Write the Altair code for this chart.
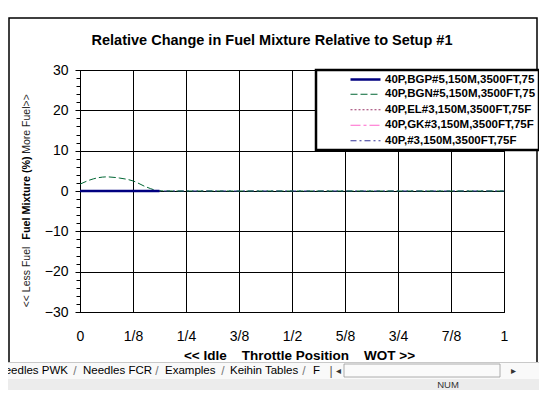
import altair as alt
import pandas as pd

# ---------------- data ----------------
series_names = [
    "40P,BGP#5,150M,3500FT,75F",
    "40P,BGN#5,150M,3500FT,75F",
    "40P,EL#3,150M,3500FT,75F",
    "40P,GK#3,150M,3500FT,75F",
    "40P,#3,150M,3500FT,75F",
]
series_colors = ["#000080", "#006633", "#993366", "#ff66cc", "#333399"]
series_dash = [[1, 0], [7, 3], [2, 2], [10, 3, 3, 3], [6, 3, 2, 3]]
series_width = [2.6, 1.0, 1.0, 1.0, 1.0]

throttle_short = [0.0, 0.03125, 0.0625, 0.09375, 0.125, 0.15625, 0.1875]
bgp5 = [0.0, 0.0, 0.0, 0.0, 0.0, 0.0, 0.0]
el3 = [0.0, 0.0, 0.0, 0.0, 0.0, 0.0, 0.0]
gk3 = [0.0, 0.0, 0.0, 0.0, 0.0, 0.0, 0.0]

throttle = [0.0, 0.03125, 0.0625, 0.09375, 0.125, 0.15625, 0.1875, 0.21875,
            0.25, 0.375, 0.5, 0.625, 0.75, 0.875, 1.0]
bgn5 = [1.7, 3.0, 3.5, 3.2, 2.5, 1.0, 0.05, 0.0, 0.0, 0.0, 0.0, 0.0, 0.0, 0.0, 0.0]
s3 = [0.0, 0.0, 0.0, 0.0, 0.0, 0.0, 0.0, 0.0, 0.0, 0.0, 0.0, 0.0, 0.0, 0.0, 0.0]

x_tick_values = [0, 0.125, 0.25, 0.375, 0.5, 0.625, 0.75, 0.875, 1]
x_tick_labels = ["0", "1/8", "1/4", "3/8", "1/2", "5/8", "3/4", "7/8", "1"]
y_major = [-30, -20, -10, 0, 10, 20, 30]
y_minor = [-30, -28, -26, -24, -22, -20, -18, -16, -14, -12, -10, -8, -6, -4, -2, 0,
           2, 4, 6, 8, 10, 12, 14, 16, 18, 20, 22, 24, 26, 28, 30]


def frame(name, xs, vals):
    return pd.DataFrame({"throttle": xs, "value": vals, "series": [name] * len(xs)})


FONT = "Liberation Sans"
W, H = 424, 242

label_expr = " : ".join(
    f"datum.value == {v} ? '{l}'" for v, l in zip(x_tick_values[:-1], x_tick_labels[:-1])
) + f" : '{x_tick_labels[-1]}'"

x_enc = alt.X(
    "throttle:Q",
    scale=alt.Scale(domain=[0, 1], nice=False, zero=False),
    axis=alt.Axis(
        values=x_tick_values, labelExpr=label_expr,
        grid=True, gridColor="black", gridOpacity=1, gridWidth=1,
        ticks=False, domain=True, domainColor="black",
        labelFont=FONT, labelFontSize=14, labelColor="black", labelPadding=17,
        labelFlush=False,
        title="<<\u00a0Idle\u00a0\u00a0\u00a0\u00a0Throttle\u00a0Position\u00a0\u00a0\u00a0\u00a0WOT\u00a0>>",
        titleFont=FONT, titleFontSize=13.5, titleFontWeight="bold", titleColor="black",
        titlePadding=5, titleX=219,
    ),
)

y_enc = alt.Y(
    "value:Q",
    scale=alt.Scale(domain=[-30, 30], nice=False),
    axis=alt.Axis(
        orient="left",
        values=y_major, grid=True, gridColor="black", gridOpacity=1, gridWidth=1,
        tickColor="black", tickSize=5, domainColor="black",
        labelFont=FONT, labelFontSize=14, labelColor="black", labelPadding=7,
        title=None,
    ),
)

color_enc = alt.Color(
    "series:N",
    scale=alt.Scale(domain=series_names, range=series_colors),
    legend=alt.Legend(
        orient="none", legendX=236, legendY=0, title=None,
        fillColor="white", strokeColor="black", padding=3,
        symbolType="M-3,0H3", symbolSize=100, symbolOffset=40,
        labelFont=FONT, labelFontSize=11.5, labelFontWeight="bold",
        labelColor="black", labelOffset=13, rowPadding=2.5, labelLimit=300,
        labelExpr="substring(datum.label, 0, 24)",
    ),
)
dash_enc = alt.StrokeDash("series:N", scale=alt.Scale(domain=series_names, range=series_dash))
width_enc = alt.StrokeWidth("series:N", scale=alt.Scale(type="ordinal", domain=series_names, range=series_width))


def line_layer(d):
    return alt.Chart(d).mark_line(interpolate="monotone").encode(
        x=x_enc, y=y_enc, color=color_enc, strokeDash=dash_enc, strokeWidth=width_enc
    )


lines = alt.layer(
    line_layer(frame(series_names[4], throttle, s3)),
    line_layer(frame(series_names[3], throttle_short, gk3)),
    line_layer(frame(series_names[2], throttle_short, el3)),
    line_layer(frame(series_names[1], throttle, bgn5)),
    line_layer(frame(series_names[0], throttle_short, bgp5)),
)

minor = alt.Chart(pd.DataFrame({"v": y_minor})).mark_point(opacity=0).encode(
    y=alt.Y("v:Q", scale=alt.Scale(domain=[-30, 30], nice=False),
            axis=alt.Axis(orient="left", values=y_minor, labels=False, grid=False,
                          domain=False, tickSize=4, tickColor="black", title=None)),
)

one = pd.DataFrame({"a": [0]})


def txt(text, x, y, size, weight="normal", angle=0, color="black", align="center"):
    return alt.Chart(one).mark_text(
        text=text, font=FONT, fontSize=size, fontWeight=weight, angle=angle,
        color=color, align=align, baseline="middle",
    ).encode(x=alt.value(x), y=alt.value(y))


def box(x, x2, y, y2, fill=None, stroke=None, sw=1.0):
    kw = {"strokeWidth": sw}
    kw["fill"] = fill if fill is not None else "transparent"
    if stroke is not None:
        kw["stroke"] = stroke
    return alt.Chart(one).mark_rect(**kw).encode(
        x=alt.value(x), x2=alt.value(x2), y=alt.value(y), y2=alt.value(y2)
    )


title = txt("Relative Change in Fuel Mixture Relative to Setup #1", 192, -29, 14.5, "bold")
yt1 = txt("<< Less Fuel", -53, 207, 10.5, angle=270, color="#222222")
yt2 = txt("Fuel Mixture (%)", -53, 128, 10.8, "bold", angle=270)
yt3 = txt("More Fuel>>", -53, 54, 10.5, angle=270, color="#222222")

border = box(-71, 457, -52, 300, stroke="black", sw=1.5)
tabbar = box(-72, 460, 292, 309, fill="#f9f9f9")
tabline = box(-72, 460, 292, 292.5, fill="#999999")
statusbar = box(-72, 460, 309, 320, fill="#ececec")
scroll = box(264, 420, 294, 307, fill="#fafafa", stroke="#999999", sw=0.8)
tabs = [
    txt("Needles PWK", -12, 301, 11.5, align="right"),
    txt("/", -5, 301, 12, color="#777777"),
    txt("Needles FCR", 3, 301, 11.5, align="left"),
    txt("/", 77, 301, 12, color="#777777"),
    txt("Examples", 85, 301, 11.5, align="left"),
    txt("/", 143, 301, 12, color="#777777"),
    txt("Keihin Tables", 150, 301, 11.5, align="left"),
    txt("/", 224, 301, 12, color="#777777"),
    txt("F", 233, 301, 11.5, align="left"),
    txt("|", 251, 301, 12, color="#555555"),
    txt("\u25c2", 258, 301, 10, color="#333333"),
    txt("\u25b8", 433, 301, 10, color="#333333"),
    txt("NUM", 368, 314.5, 9.5, color="#333333"),
]

chart = alt.layer(
    lines, minor, title, yt1, yt2, yt3, border, tabbar, tabline, statusbar, scroll, *tabs
).resolve_axis(y="independent").properties(
    width=W, height=H,
    autosize=alt.AutoSizeParams(type="none"),
    padding={"left": 72, "top": 62, "right": 35, "bottom": 78},
).configure_view(stroke="black", strokeWidth=1).configure_legend(strokeWidth=2.5)

chart.save("out.html", embed_options={"renderer": "svg", "actions": False})
